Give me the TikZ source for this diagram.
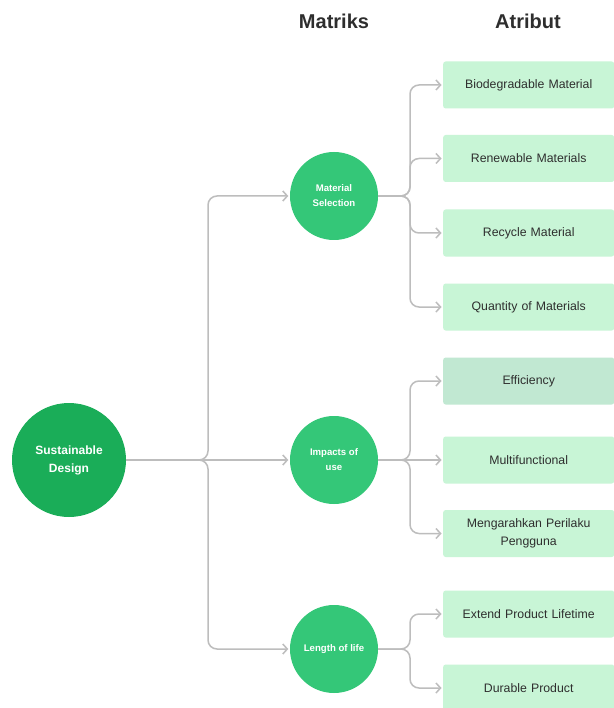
\documentclass[tikz,border=0pt]{standalone}
\usepackage{fontspec}
\setmainfont{Liberation Sans}
\usetikzlibrary{arrows.meta}
\definecolor{darkg}{HTML}{1AAD58}
\definecolor{midg}{HTML}{34C778}
\definecolor{boxg}{HTML}{C8F5D6}
\definecolor{boxe}{HTML}{C1E8D2}
\definecolor{lineg}{HTML}{BDBDBD}
\definecolor{txt}{HTML}{2E2E2E}
\begin{document}
\begin{tikzpicture}[x=1pt,y=-1pt,
  conn/.style={draw=lineg, line width=1.5pt, rounded corners=9pt, shorten >=1.5pt, -{Straight Barb[length=4.5pt,width=10pt]}},
  bigc/.style={circle, fill=darkg, minimum size=114pt, inner sep=0pt, text=white, align=center, font=\fontsize{12pt}{18pt}\selectfont\bfseries},
  midc/.style={circle, fill=midg, minimum size=88pt, inner sep=0pt, text=white, align=center, font=\fontsize{9.6pt}{15pt}\selectfont\bfseries},
  attr/.style={rectangle, rounded corners=2.5pt, fill=boxg, minimum width=171pt, minimum height=47pt, anchor=west, inner sep=0pt, text=txt, align=center, font=\fontsize{12.3pt}{18pt}\selectfont, text width=160pt},
  hdr/.style={font=\fontsize{20pt}{22pt}\selectfont\bfseries, text=txt}
]
\useasboundingbox (0,0) rectangle (613,708);
\fill[white] (0,0) rectangle (613,708);

\node[hdr] (h1) at (334,21) {Matriks};
\node[hdr] (h2) at (528,21) {Atribut};

\node[bigc] (sd) at (69,460) {Sustainable\\Design};
\node[midc] (ms) at (334,196) {Material\\Selection};
\node[midc] (iu) at (334,460) {Impacts of\\use};
\node[midc] (ll) at (334,649) {Length of life};

\node[attr] (b1) at (443,85) {\raisebox{-1.5pt}{Biodegradable Material}};
\node[attr] (b2) at (443,158.5) {\raisebox{-1.5pt}{Renewable Materials}};
\node[attr] (b3) at (443,233) {\raisebox{-1.5pt}{Recycle Material}};
\node[attr] (b4) at (443,307) {\raisebox{-1.5pt}{Quantity of Materials}};
\node[attr, fill=boxe] (b5) at (443,381) {\raisebox{-1.5pt}{Efficiency}};
\node[attr] (b6) at (443,460) {\raisebox{-1.5pt}{Multifunctional}};
\node[attr] (b7) at (443,533.5) {Mengarahkan Perilaku\\Pengguna};
\node[attr] (b8) at (443,614) {\raisebox{-1.5pt}{Extend Product Lifetime}};
\node[attr] (b9) at (443,688) {\raisebox{-1.5pt}{Durable Product}};

\draw[conn] (sd.east) -- (208,460) -- (208,196) -- (ms.west);
\draw[conn] (sd.east) -- (iu.west);
\draw[conn] (sd.east) -- (208,460) -- (208,649) -- (ll.west);

\draw[conn] (ms.east) -- (410,196) -- (410,85) -- (b1.west);
\draw[conn] (ms.east) -- (410,196) -- (410,158.5) -- (b2.west);
\draw[conn] (ms.east) -- (410,196) -- (410,233) -- (b3.west);
\draw[conn] (ms.east) -- (410,196) -- (410,307) -- (b4.west);

\draw[conn] (iu.east) -- (410,460) -- (410,381) -- (b5.west);
\draw[conn] (iu.east) -- (b6.west);
\draw[conn] (iu.east) -- (410,460) -- (410,533.5) -- (b7.west);

\draw[conn] (ll.east) -- (410,649) -- (410,614) -- (b8.west);
\draw[conn] (ll.east) -- (410,649) -- (410,688) -- (b9.west);
\end{tikzpicture}
\end{document}
